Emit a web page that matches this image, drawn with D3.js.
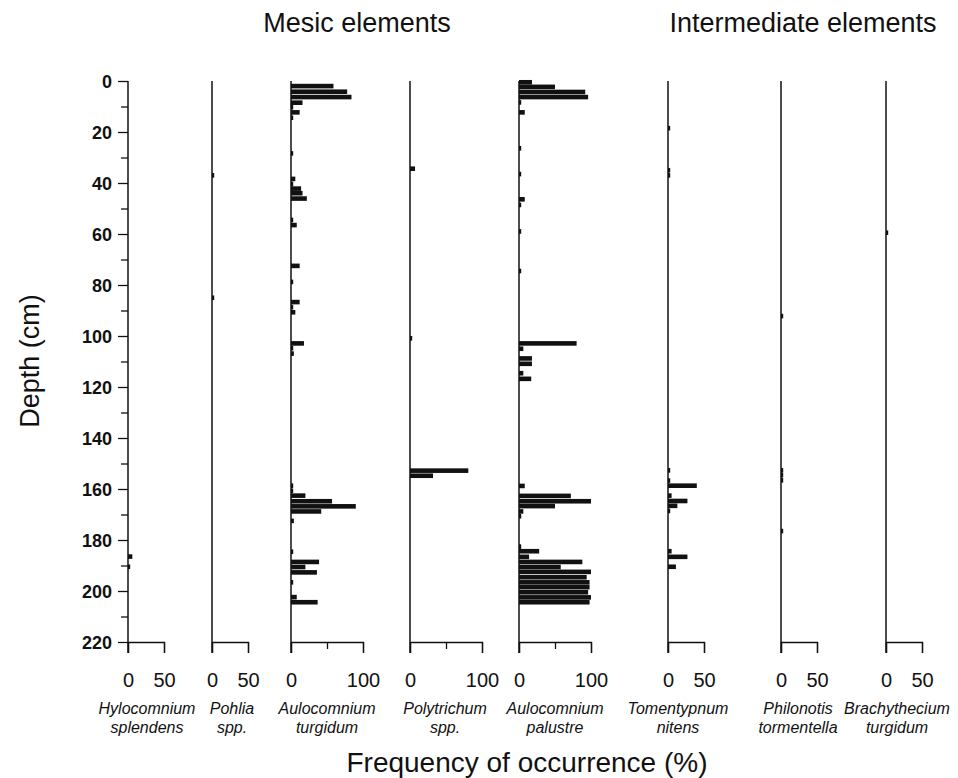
<!DOCTYPE html>
<html>
<head>
<meta charset="utf-8">
<script src="https://cdn.jsdelivr.net/npm/d3@7"></script>
<style>
  body { margin: 0; background: #fff; }
  svg text { fill: #111; }
</style>
</head>
<body>
<div id="chart"></div>
<script>
// depth (cm), frequency of occurrence (%)
const hylocomniumSplendens = [[186.5, 6], [190.5, 3]];
const pohliaSpp = [[37, 3], [85, 2]];
const aulocomniumTurgidum = [
  [2, 59], [4.2, 78], [6.3, 84], [8.5, 16], [10.3, 2], [12.3, 12], [14.4, 2],
  [28.4, 2], [38.4, 6], [40.4, 2], [42.2, 14], [44, 16], [46.1, 22],
  [54.5, 2], [56.5, 8], [72.5, 12], [78.8, 2], [86.7, 12], [88.7, 2], [90.7, 6],
  [102.9, 18], [104.8, 2], [106.9, 4],
  [158.7, 2], [160.7, 2], [162.6, 20], [164.8, 57], [166.8, 90], [168.8, 42], [172.5, 4],
  [184.6, 2], [188.6, 39], [190.6, 20], [192.7, 36], [196.6, 2], [202.4, 8], [204.4, 37]
];
const polytrichumSpp = [[34.4, 7], [100.9, 2], [152.8, 81], [154.8, 32]];
const aulocomniumPalustre = [
  [0.5, 18], [2.3, 50], [4.3, 92], [6.3, 96], [8.4, 2], [12.3, 8],
  [26.4, 3], [36.5, 2], [46.4, 8], [48.6, 2], [59, 2], [74.5, 2],
  [102.9, 80], [105, 6], [108.8, 18], [110.9, 18], [114.6, 6], [116.8, 17],
  [158.8, 8], [162.7, 72], [164.8, 100], [166.7, 50], [168.8, 6], [170.7, 2],
  [182.6, 2], [184.4, 28], [186.6, 14], [188.6, 88], [190.6, 58], [192.5, 100],
  [194.6, 94], [196.6, 98], [198.5, 98], [200.5, 96], [202.5, 100], [204.4, 98]
];
const tomentypnumNitens = [
  [18.5, 2], [35, 2], [37, 2], [152.7, 2], [156.7, 2], [158.7, 40], [162.6, 5],
  [164.7, 27], [166.6, 13], [168.6, 2], [184.4, 5], [186.6, 27], [190.5, 11]
];
const philonotisTormentella = [[92.2, 2], [152.7, 2], [154.6, 2], [156.6, 3], [176.5, 2]];
const brachytheciumTurgidum = [[59.5, 3]];

const seriesData = [hylocomniumSplendens, pohliaSpp, aulocomniumTurgidum, polytrichumSpp,
  aulocomniumPalustre, tomentypnumNitens, philonotisTormentella, brachytheciumTurgidum];
const speciesLine1 = ["Hylocomnium", "Pohlia", "Aulocomnium", "Polytrichum",
  "Aulocomnium", "Tomentypnum", "Philonotis", "Brachythecium"];
const speciesLine2 = ["splendens", "spp.", "turgidum", "spp.",
  "palustre", "nitens", "tormentella", "turgidum"];
const scaleMax = [50, 50, 100, 100, 100, 50, 50, 50];
const depthTicks = d3.range(0, 221, 10);
const groupTitles = ["Mesic elements", "Intermediate elements"];

// layout
const W = 958, H = 778;
const panelX = [128, 212, 291, 410, 519, 668, 781, 886];
const labelX = [147, 232, 327, 445, 555, 678, 798, 897];
const pxPerPct = 0.72;
const yTop = 81, yBottom = 642;

const svg = d3.select("#chart").append("svg")
  .attr("width", W)
  .attr("height", H)
  .style("font-family", "'Liberation Sans', Arial, sans-serif");

const y = d3.scaleLinear().domain([0, 220]).range([yTop, yBottom]);

// depth axis
const gy = svg.append("g")
  .attr("transform", "translate(" + panelX[0] + ",0)")
  .call(d3.axisLeft(y)
    .tickValues(depthTicks)
    .tickSize(10)
    .tickSizeOuter(0)
    .tickPadding(6)
    .tickFormat(d => d % 20 === 0 ? d : ""));
gy.select(".domain").remove();
gy.selectAll(".tick line")
  .attr("stroke", "#111")
  .attr("stroke-width", 1.3)
  .attr("x2", d => d % 20 === 0 ? -10 : -7);
gy.selectAll(".tick text")
  .style("font-size", "18px")
  .style("font-weight", "bold")
  .attr("dy", "0.36em");

svg.append("text")
  .attr("transform", "translate(39,361) rotate(-90)")
  .style("text-anchor", "middle")
  .style("font-size", "27px")
  .text("Depth (cm)");

// panels
seriesData.forEach(function (data, i) {
  const x0 = panelX[i];
  const x = d3.scaleLinear()
    .domain([0, scaleMax[i]])
    .range([x0, x0 + scaleMax[i] * pxPerPct]);
  const g = svg.append("g");

  g.selectAll("rect.bar")
    .data(data)
    .enter()
    .append("rect")
    .attr("class", "bar")
    .attr("x", x0)
    .attr("y", d => y(d[0]) - 2.3)
    .attr("height", 4.6)
    .attr("width", d => Math.max(2.2, x(d[1]) - x0))
    .attr("fill", "#111");

  const gx = g.append("g")
    .attr("transform", "translate(0," + yBottom + ")")
    .call(d3.axisBottom(x)
      .tickValues(scaleMax[i] === 100 ? [0, 50, 100] : [0, 50])
      .tickSizeInner(11)
      .tickSizeOuter(11)
      .tickPadding(20));
  gx.select(".domain").attr("stroke", "#111").attr("stroke-width", 1.3);
  gx.selectAll(".tick line")
    .attr("stroke", "#111")
    .attr("stroke-width", 1.3)
    .attr("y2", d => (scaleMax[i] === 100 && d === 50) ? 7 : 11);
  gx.selectAll(".tick text")
    .style("font-size", "20px")
    .text(d => (scaleMax[i] === 100 && d === 50) ? "" : d);

  g.append("line")
    .attr("x1", x0).attr("x2", x0)
    .attr("y1", yTop).attr("y2", yBottom + 11)
    .attr("stroke", "#111")
    .attr("stroke-width", 1.5);

  const lab = g.append("text")
    .attr("x", labelX[i])
    .attr("y", 714)
    .style("text-anchor", "middle")
    .style("font-style", "italic")
    .style("font-size", "16px");
  lab.append("tspan").attr("x", labelX[i]).text(speciesLine1[i]);
  lab.append("tspan").attr("x", labelX[i]).attr("dy", 19).text(speciesLine2[i]);
});

// titles
svg.append("text")
  .attr("x", 357).attr("y", 32)
  .style("text-anchor", "middle")
  .style("font-size", "27px")
  .text(groupTitles[0]);
svg.append("text")
  .attr("x", 803).attr("y", 32)
  .style("text-anchor", "middle")
  .style("font-size", "27px")
  .text(groupTitles[1]);

svg.append("text")
  .attr("x", 527).attr("y", 772)
  .style("text-anchor", "middle")
  .style("font-size", "28px")
  .text("Frequency of occurrence (%)");
</script>
</body>
</html>
